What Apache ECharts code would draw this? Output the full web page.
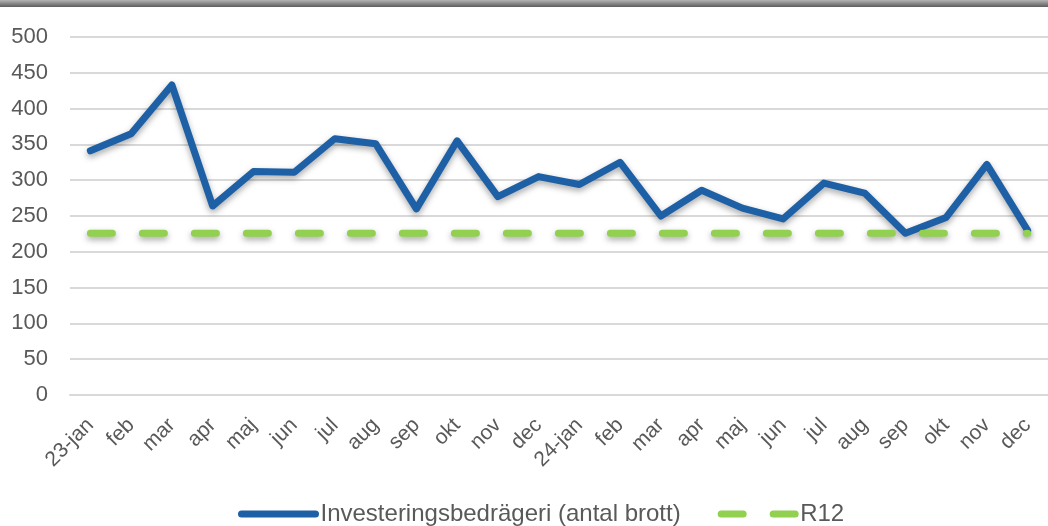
<!DOCTYPE html>
<html>
<head>
<meta charset="utf-8">
<script src="https://cdn.jsdelivr.net/npm/echarts@6/dist/echarts.min.js"></script>
<style>
  html, body { margin: 0; padding: 0; background: #fff; }
  #chartDom { width: 1048px; height: 526px; }
</style>
</head>
<body>
<div id="chartDom"></div>
<script>
// månader, två år
var months = ['23-jan', 'feb', 'mar', 'apr', 'maj', 'jun', 'jul', 'aug', 'sep', 'okt', 'nov', 'dec',
    '24-jan', 'feb', 'mar', 'apr', 'maj', 'jun', 'jul', 'aug', 'sep', 'okt', 'nov', 'dec'];
var brott = [341, 365, 433, 264, 312, 311, 358, 351, 260, 355, 277, 305,
    294, 325, 250, 286, 261, 246, 296, 282, 226, 248, 322, 230];
var r12 = [226, 226, 226, 226, 226, 226, 226, 226, 226, 226, 226, 226,
    226, 226, 226, 226, 226, 226, 226, 226, 226, 226, 226, 226];
var yTicks = { min: 0, max: 500, interval: 50 };

var font = '"Liberation Sans", Arial, sans-serif';
var textColor = '#595959';

var myChart = echarts.init(document.getElementById('chartDom'));

var legendLine = { width: 7, cap: 'round', shadowBlur: 0, shadowOffsetY: 0 };

var option = {
    backgroundColor: '#fff',
    animation: false,
    graphic: [{
        type: 'rect',
        left: 0, top: 0,
        shape: { width: 1048, height: 7 },
        style: {
            fill: new echarts.graphic.LinearGradient(0, 0, 0, 1, [
                { offset: 0, color: '#b4b4b4' },
                { offset: 1, color: '#5c5c5c' }
            ])
        },
        silent: true
    }],
    grid: { left: 70, top: 37, width: 984, height: 358 },
    legend: {
        left: 233,
        top: 497,
        itemWidth: 74,
        itemHeight: 14,
        itemGap: 37,
        textStyle: { fontFamily: font, fontSize: 24, color: textColor },
        data: [
            { name: 'Investeringsbedrägeri (antal brott)', lineStyle: legendLine, itemStyle: { opacity: 0 } },
            { name: 'R12', lineStyle: legendLine, itemStyle: { opacity: 0 } }
        ]
    },
    xAxis: {
        type: 'category',
        data: months,
        boundaryGap: true,
        axisLine: { show: true, lineStyle: { color: '#d9d9d9', width: 2 } },
        axisTick: { show: false },
        axisLabel: {
            interval: 0,
            rotate: 45,
            margin: 27,
            fontFamily: font,
            fontSize: 21,
            color: textColor
        }
    },
    yAxis: {
        type: 'value',
        min: yTicks.min,
        max: yTicks.max,
        interval: yTicks.interval,
        axisLine: { show: false },
        axisTick: { show: false },
        splitLine: { lineStyle: { color: '#d9d9d9', width: 2 } },
        axisLabel: {
            margin: 22,
            fontFamily: font,
            fontSize: 22,
            color: textColor
        }
    },
    series: [
        {
            name: 'Investeringsbedrägeri (antal brott)',
            type: 'line',
            data: brott,
            symbol: 'none',
            lineStyle: {
                color: '#1e60a6',
                width: 7,
                join: 'round',
                cap: 'round',
                shadowColor: 'rgba(0,0,0,0.35)',
                shadowBlur: 6,
                shadowOffsetY: 3
            },
            itemStyle: { color: '#1e60a6' },
            z: 2
        },
        {
            name: 'R12',
            type: 'line',
            data: r12,
            symbol: 'none',
            lineStyle: {
                color: '#92d050',
                width: 7,
                type: [22, 30],
                cap: 'round',
                shadowColor: 'rgba(0,0,0,0.35)',
                shadowBlur: 6,
                shadowOffsetY: 3
            },
            itemStyle: { color: '#92d050' },
            z: 3
        }
    ]
};

myChart.setOption(option);
</script>
</body>
</html>
